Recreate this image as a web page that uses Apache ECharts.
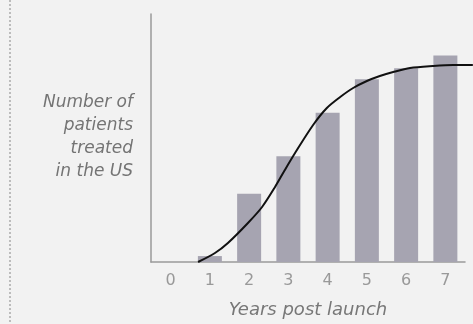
<!DOCTYPE html>
<html>
<head>
<meta charset="utf-8">
<script src="https://cdn.jsdelivr.net/npm/echarts@6/dist/echarts.min.js"></script>
<style>
  html, body { margin: 0; padding: 0; background: #f2f2f2; }
  #chart { width: 473px; height: 324px; }
</style>
</head>
<body>
<div id="chart"></div>
<script>
// Years after launch and patients treated per year (relative units)
const years = ['0', '1', '2', '3', '4', '5', '6', '7'];
const patients = [0, 6, 69, 107, 151, 185, 196, 209];

// Adoption S-curve: x in year units, y in the same units as the bars
const curveX = [0.70, 1.13, 1.46, 1.97, 2.33, 2.66, 2.91, 3.17, 3.63, 3.98, 4.32, 4.65, 5.00, 5.33, 5.67, 6.10, 6.68, 7.20, 7.70];
const curveY = [3, 12, 22, 42, 58, 78, 95, 112, 140, 157, 168, 177, 184, 189, 193, 197, 199, 200, 200];

const curve = curveX.map((x, i) => [x, curveY[i]]);
const font = '"DejaVu Sans", Verdana, sans-serif';

// Bar plot spans 8 categories over 314px; the curve's grid shares the
// same scale but runs on to the right edge of the canvas.
const plotLeft = 151, plotTop = 14, plotHeight = 251, barPlotWidth = 314;
const curveWidth = 473 - plotLeft;
const unit = barPlotWidth / years.length;

const chart = echarts.init(document.getElementById('chart'));
chart.setOption({
  backgroundColor: '#f2f2f2',
  animation: false,
  grid: [
    { left: plotLeft, top: plotTop, width: barPlotWidth, height: plotHeight },
    { left: plotLeft, top: plotTop, width: curveWidth, height: plotHeight }
  ],
  xAxis: [
    {
      type: 'category',
      gridIndex: 0,
      data: years,
      axisLine: { lineStyle: { color: '#9a9a9a', width: 1.5 } },
      axisTick: { show: false },
      axisLabel: { color: '#999', fontSize: 16, fontFamily: font, margin: 11 },
      name: 'Years post launch',
      nameLocation: 'middle',
      nameGap: 39,
      nameTextStyle: { color: '#777', fontSize: 18, fontStyle: 'italic', fontFamily: font }
    },
    {
      type: 'value',
      gridIndex: 1,
      min: -0.5,
      max: -0.5 + curveWidth / unit,
      show: false
    }
  ],
  yAxis: [
    {
      type: 'value',
      gridIndex: 0,
      min: 0,
      max: 251,
      axisLine: { show: true, onZero: false, lineStyle: { color: '#9a9a9a', width: 1.5 } },
      axisTick: { show: false },
      axisLabel: { show: false },
      splitLine: { show: false }
    },
    {
      type: 'value',
      gridIndex: 1,
      min: 0,
      max: 251,
      show: false
    }
  ],
  series: [
    {
      type: 'bar',
      xAxisIndex: 0,
      yAxisIndex: 0,
      data: patients,
      barWidth: 24,
      itemStyle: { color: '#a6a4b1' }
    },
    {
      type: 'line',
      xAxisIndex: 1,
      yAxisIndex: 1,
      data: curve,
      smooth: 0.3,
      symbol: 'none',
      lineStyle: { color: '#111', width: 2 }
    }
  ],
  graphic: [
    {
      type: 'line',
      shape: { x1: 10, y1: 0, x2: 10, y2: 324 },
      style: { stroke: '#aaa', lineWidth: 1.5, lineDash: [2, 2] }
    },
    {
      type: 'text',
      x: 133,
      y: 91,
      style: {
        text: 'Number of\npatients\ntreated\nin the US',
        align: 'right',
        fill: '#747474',
        font: 'italic 17px ' + font,
        lineHeight: 23
      }
    }
  ]
});
</script>
</body>
</html>
